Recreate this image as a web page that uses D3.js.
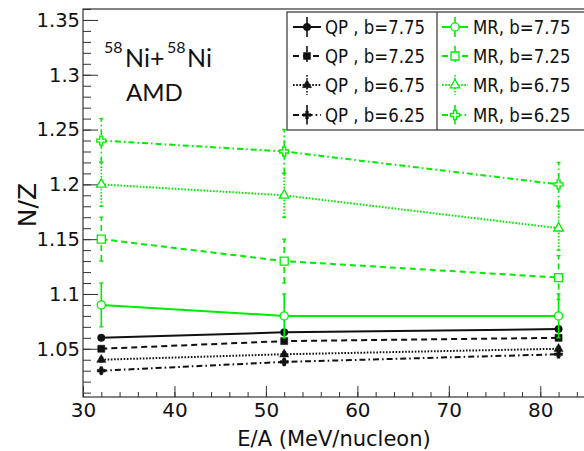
<!DOCTYPE html>
<head>
<meta charset="utf-8">
<title>N/Z vs E/A</title>
<script src="https://cdn.jsdelivr.net/npm/d3@7"></script>
<style>
  body { margin: 0; background: #fff; }
  text { font-family: "DejaVu Sans", sans-serif; fill: #111; }
</style>
</head>
<body>
<script>
// beam energies (MeV/nucleon)
var energies = [32, 52, 82];

// quasi-projectile N/Z
var qpB775 = [1.060, 1.065, 1.068];
var qpB725 = [1.050, 1.057, 1.060];
var qpB675 = [1.040, 1.045, 1.050];
var qpB625 = [1.030, 1.038, 1.045];
var qpErr  = [0.002, 0.002, 0.002];

// mid-rapidity N/Z
var mrB775 = [1.090, 1.080, 1.080];
var mrB725 = [1.150, 1.130, 1.115];
var mrB675 = [1.200, 1.190, 1.160];
var mrB625 = [1.240, 1.230, 1.200];
var mrErr  = [0.020, 0.020, 0.020];

var xTicks = [30, 40, 50, 60, 70, 80];
var yTicks = [1.05, 1.1, 1.15, 1.2, 1.25, 1.3, 1.35];

var legendNames = ["QP , b=7.75", "QP , b=7.25", "QP , b=6.75", "QP , b=6.25",
                   "MR, b=7.75", "MR, b=7.25", "MR, b=6.75", "MR, b=6.25"];

var w = 584, h = 451;
var green = "#00ec00", black = "#111";

var dashes = ["none", "6,4", "1.6,1.6", "6,3,1.6,3"];

var series = [
  {v: qpB775, e: qpErr, c: black, d: dashes[0], m: d3.symbolCircle,   s: 44, open: false},
  {v: qpB725, e: qpErr, c: black, d: dashes[1], m: d3.symbolSquare,   s: 50, open: false},
  {v: qpB675, e: qpErr, c: black, d: dashes[2], m: d3.symbolTriangle, s: 36, open: false},
  {v: qpB625, e: qpErr, c: black, d: dashes[3], m: d3.symbolCross,    s: 36, open: false},
  {v: mrB775, e: mrErr, c: green, d: dashes[0], m: d3.symbolCircle,   s: 52, open: true},
  {v: mrB725, e: mrErr, c: green, d: dashes[1], m: d3.symbolSquare,   s: 64, open: true},
  {v: mrB675, e: mrErr, c: green, d: dashes[2], m: d3.symbolTriangle, s: 40, open: true},
  {v: mrB625, e: mrErr, c: green, d: dashes[3], m: d3.symbolCross,    s: 45, open: true}
];

var svg = d3.select("body").append("svg")
  .attr("width", w).attr("height", h);

var x = d3.scaleLinear().domain([30, 85]).range([83, 586]);
var y = d3.scaleLinear().domain([1.006, 1.36]).range([397, 9]);

// minor ticks
var xMinor = d3.range(30, 86, 2);
var yMinor = d3.range(1.01, 1.36, 0.01);

svg.append("g").attr("transform", "translate(0,397)")
  .call(d3.axisBottom(x).tickValues(xMinor).tickSize(-5).tickFormat(""))
  .call(function(g){ g.select(".domain").remove(); g.selectAll("line").attr("stroke", "#333"); });
svg.append("g").attr("transform", "translate(0,397)")
  .call(d3.axisBottom(x).tickValues(xTicks).tickSize(-11).tickPadding(6))
  .call(function(g){
    g.select(".domain").remove();
    g.selectAll("line").attr("stroke", "#333");
    g.selectAll("text").attr("font-size", 20).attr("font-family", "DejaVu Sans").attr("fill", "#111");
  });

svg.append("g").attr("transform", "translate(83,0)")
  .call(d3.axisLeft(y).tickValues(yMinor).tickSize(-8).tickFormat(""))
  .call(function(g){ g.select(".domain").remove(); g.selectAll("line").attr("stroke", "#333"); });
svg.append("g").attr("transform", "translate(83,0)")
  .call(d3.axisLeft(y).tickValues(yTicks).tickSize(-15).tickPadding(3).tickFormat(d3.format("~g")))
  .call(function(g){
    g.select(".domain").remove();
    g.selectAll("line").attr("stroke", "#333");
    g.selectAll("text").attr("font-size", 19.5).attr("font-family", "DejaVu Sans").attr("fill", "#111");
  });

// frame
svg.append("rect").attr("x", 83).attr("y", 9).attr("width", 520).attr("height", 388)
  .attr("fill", "none").attr("stroke", "#333").attr("stroke-width", 1.2);

// axis titles
svg.append("text").attr("x", 334).attr("y", 446).attr("text-anchor", "middle")
  .attr("font-size", 21).text("E/A (MeV/nucleon)");
svg.append("text").attr("transform", "translate(36,205) rotate(-90)")
  .attr("text-anchor", "middle").attr("font-size", 25).text("N/Z");

// data
var line = d3.line().x(function(d, i){ return x(energies[i]); }).y(function(d){ return y(d); });

series.forEach(function(s){
  var g = svg.append("g");
  // error bars
  s.v.forEach(function(v, i){
    var cx = x(energies[i]);
    g.append("line").attr("x1", cx).attr("x2", cx)
      .attr("y1", y(v - s.e[i])).attr("y2", y(v + s.e[i]))
      .attr("stroke", s.c).attr("stroke-width", 1.6).attr("stroke-dasharray", s.d);
    [v - s.e[i], v + s.e[i]].forEach(function(t){
      g.append("line").attr("x1", cx - 2).attr("x2", cx + 2)
        .attr("y1", y(t)).attr("y2", y(t))
        .attr("stroke", s.c).attr("stroke-width", 1.4);
    });
  });
  g.append("path").datum(s.v).attr("d", line)
    .attr("fill", "none").attr("stroke", s.c).attr("stroke-width", 2)
    .attr("stroke-dasharray", s.d);
  g.selectAll(".mk").data(s.v).enter().append("path")
    .attr("transform", function(d, i){ return "translate(" + x(energies[i]) + "," + y(d) + ")"; })
    .attr("d", d3.symbol().type(s.m).size(s.s))
    .attr("fill", s.open ? "#fff" : s.c)
    .attr("stroke", s.c).attr("stroke-width", s.open ? 1.3 : 0.5);
});

// legend
svg.append("rect").attr("x", 287).attr("y", 12).attr("width", 320).attr("height", 118)
  .attr("fill", "#fff").attr("stroke", "#333").attr("stroke-width", 1.2);
svg.append("line").attr("x1", 437).attr("x2", 437).attr("y1", 12).attr("y2", 130)
  .attr("stroke", "#333").attr("stroke-width", 1.2);

var rowY = [27, 56, 85, 115];
series.forEach(function(s, k){
  var col = k < 4 ? 0 : 1;
  var ry = rowY[k % 4];
  var x0 = col ? 442 : 293, x1 = col ? 468 : 321, xm = (x0 + x1) / 2;
  var tx = col ? 473 : 325;
  var g = svg.append("g");
  g.append("line").attr("x1", x0).attr("x2", x1).attr("y1", ry).attr("y2", ry)
    .attr("stroke", s.c).attr("stroke-width", 2).attr("stroke-dasharray", s.d);
  g.append("line").attr("x1", xm).attr("x2", xm).attr("y1", ry - 10).attr("y2", ry + 10)
    .attr("stroke", s.c).attr("stroke-width", 1.6).attr("stroke-dasharray", s.d);
  g.append("path").attr("transform", "translate(" + xm + "," + ry + ")")
    .attr("d", d3.symbol().type(s.m).size(s.s))
    .attr("fill", s.open ? "#fff" : s.c)
    .attr("stroke", s.c).attr("stroke-width", s.open ? 1.3 : 0.5);
  g.append("text").attr("transform", "translate(" + tx + "," + (ry + 7) + ") scale(0.85,1)")
    .attr("font-size", 19.5).text(legendNames[k]);
});

// reaction label
var lab = svg.append("g");
lab.append("text").attr("x", 104).attr("y", 53).attr("font-size", 16)
  .style("font-family", "Lato").text("58");
lab.append("text").attr("x", 125).attr("y", 67).attr("font-size", 25)
  .style("font-family", "Lato").text("Ni+");
lab.append("text").attr("x", 167).attr("y", 53).attr("font-size", 16)
  .style("font-family", "Lato").text("58");
lab.append("text").attr("x", 187).attr("y", 67).attr("font-size", 25)
  .style("font-family", "Lato").text("Ni");
lab.append("text").attr("x", 126).attr("y", 101).attr("font-size", 24)
  .style("font-family", "Lato").text("AMD");
</script>
</body>
